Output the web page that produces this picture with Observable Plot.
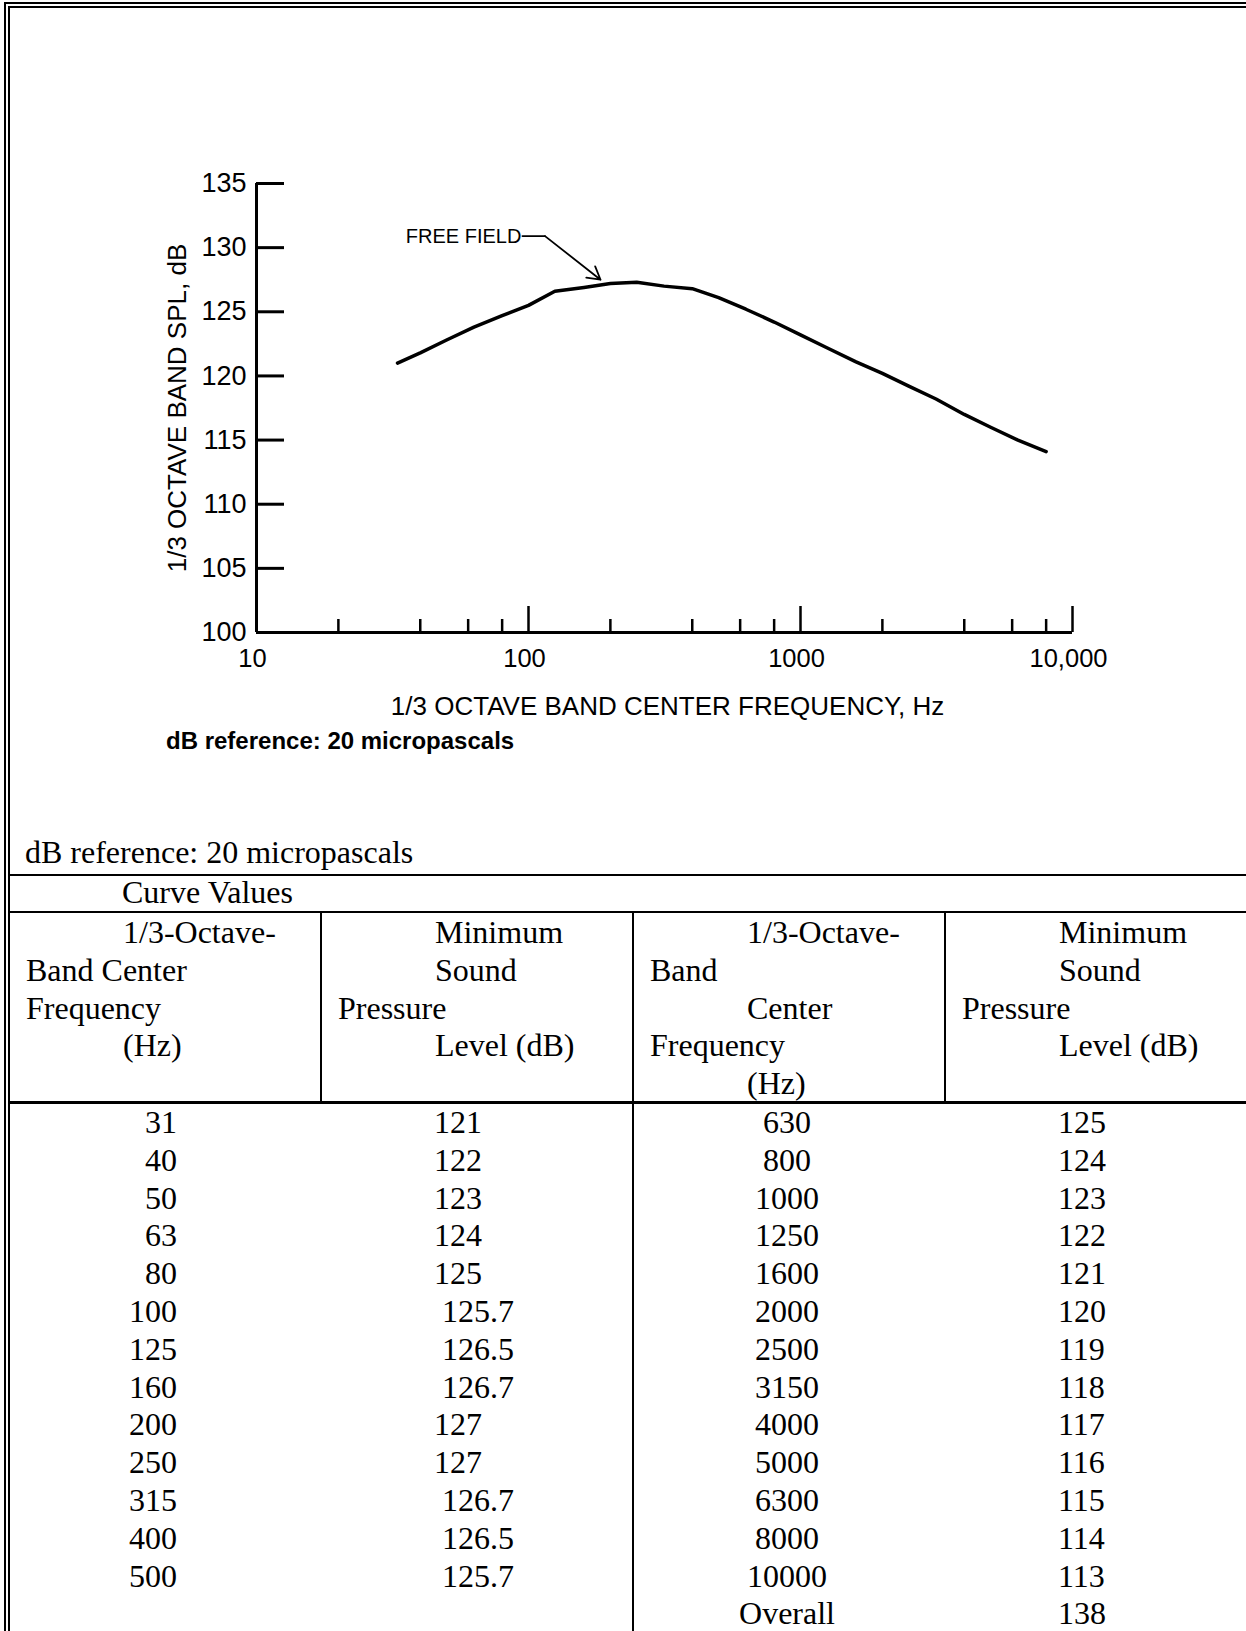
<!DOCTYPE html>
<html><head><meta charset="utf-8">
<script src="https://cdn.jsdelivr.net/npm/d3@7"></script>
<script src="https://cdn.jsdelivr.net/npm/@observablehq/plot@0.6"></script>
<style>
html,body{margin:0;padding:0;background:#fff;}
#page{position:relative;width:1246px;height:1631px;overflow:hidden;background:#fff;}
#frame{position:absolute;left:4px;top:2px;width:1260px;height:1650px;border-top:6px double #000;border-left:6px double #000;}
#chart{position:absolute;left:0;top:0;}
.caption{position:absolute;left:166px;top:729px;font:bold 24px/24px "Liberation Sans",Arial,sans-serif;white-space:nowrap;color:#000;}
.t{position:absolute;font:32px/37.8px "Liberation Serif","Times New Roman",serif;white-space:pre;color:#000;}
.ln{position:absolute;background:#000;}
</style></head>
<body><div id="page"><div id="frame"></div><div id="chart"></div>
<div class="caption">dB reference: 20 micropascals</div><div id="table"></div></div>
<script>
// ---- chart data ----
const yTicks = [100, 105, 110, 115, 120, 125, 130, 135];
const xLabelTicks = [10, 100, 1000, 10000];
const xTickLabels = ["10", "100", "1000", "10,000"];
const xMajorTicks = [100, 1000, 10000];
const xMinorTicks = [20, 40, 60, 80, 200, 400, 600, 800, 2000, 4000, 6000, 8000];
const curveFreq = [33, 40, 50, 63, 80, 100, 125, 160, 200, 250, 315, 400, 500, 630, 800, 1000, 1250, 1600, 2000, 2500, 3150, 4000, 5000, 6300, 8000];
const curveLevel = [121.0, 121.8, 122.8, 123.8, 124.7, 125.5, 126.6, 126.9, 127.2, 127.3, 127.0, 126.8, 126.1, 125.2, 124.2, 123.2, 122.2, 121.1, 120.2, 119.2, 118.2, 117.0, 116.0, 115.0, 114.1];
const annotationText = ["FREE FIELD"];
const leaderFreq = [95, 115, 184];
const leaderLevel = [130.9, 130.9, 127.5];
const yTitle = "1/3 OCTAVE BAND SPL, dB";
const xTitle = "1/3 OCTAVE BAND CENTER FREQUENCY, Hz";

// ---- table data ----
const tableTitle = "dB reference: 20 micropascals";
const tableSubtitle = "Curve Values";
const headerCols = [
  ["1/3-Octave-", "Band Center", "Frequency", "(Hz)"],
  ["Minimum", "Sound", "Pressure", "Level (dB)"],
  ["1/3-Octave-", "Band", "Center", "Frequency", "(Hz)"],
  ["Minimum", "Sound", "Pressure", "Level (dB)"]
];
const leftFreq = [31, 40, 50, 63, 80, 100, 125, 160, 200, 250, 315, 400, 500];
const leftLevel = [121, 122, 123, 124, 125, 125.7, 126.5, 126.7, 127, 127, 126.7, 126.5, 125.7];
const rightFreq = [630, 800, 1000, 1250, 1600, 2000, 2500, 3150, 4000, 5000, 6300, 8000, 10000, "Overall"];
const rightLevel = [125, 124, 123, 122, 121, 120, 119, 118, 117, 116, 115, 114, 113, 138];

// ---- chart ----
const curve = curveFreq.map((f, i) => ({freq: f, level: curveLevel[i]}));
const labelMap = new Map(xLabelTicks.map((t, i) => [t, xTickLabels[i]]));
const annotation = [{text: annotationText[0], freq: leaderFreq[0], level: leaderLevel[0]}];
const leader = leaderFreq.map((f, i) => ({freq: f, level: leaderLevel[i]}));
const pointer = [{x1: leaderFreq[1], y1: leaderLevel[1], x2: leaderFreq[2], y2: leaderLevel[2]}];
const font = '"Liberation Sans", Arial, Helvetica, sans-serif';

const chart = Plot.plot({
  width: 1246, height: 790,
  marginLeft: 256, marginRight: 174, marginTop: 183, marginBottom: 158,
  x: {type: "log", domain: [10, 10000]},
  y: {domain: [100, 135]},
  style: {background: "transparent", color: "#000", fontFamily: font, overflow: "visible"},
  marks: [
    Plot.axisY({ticks: yTicks, tickSize: -28, strokeWidth: 3, tickFormat: () => "", label: null}),
    Plot.axisY({ticks: yTicks, tickSize: 0, tickPadding: 10, fontSize: 27, label: null}),
    Plot.axisX({ticks: xMajorTicks, tickSize: -26, strokeWidth: 2.5, tickFormat: () => "", label: null}),
    Plot.axisX({ticks: xMinorTicks, tickSize: -13, strokeWidth: 2.5, tickFormat: () => "", label: null}),
    Plot.axisX({ticks: xLabelTicks, tickSize: 0, tickPadding: 16, dx: -4, fontSize: 25.5, tickFormat: d => labelMap.get(d), label: null}),
    Plot.ruleX([10], {strokeWidth: 3}),
    Plot.ruleY([100], {strokeWidth: 3}),
    Plot.text([yTitle], {text: d => d, frameAnchor: "left", textAnchor: "middle", rotate: -90, dx: -79, fontSize: 26, lineAnchor: "middle"}),
    Plot.text([xTitle], {text: d => d, frameAnchor: "bottom", textAnchor: "middle", dx: 3, dy: 74, fontSize: 26, lineAnchor: "middle"}),
    Plot.line(curve, {x: "freq", y: "level", stroke: "#000", strokeWidth: 3.5, strokeLinejoin: "round"}),
    Plot.text(annotation, {x: "freq", y: "level", text: "text", textAnchor: "end", dx: -1, fontSize: 20, lineAnchor: "middle"}),
    Plot.line(leader.slice(0, 2), {x: "freq", y: "level", stroke: "#000", strokeWidth: 1.8}),
    Plot.arrow(pointer, {x1: "x1", y1: "y1", x2: "x2", y2: "y2", stroke: "#000", strokeWidth: 1.8, headLength: 12})
  ]
});
document.getElementById("chart").appendChild(chart);

// ---- table ----
const tbl = document.getElementById("table");
function addText(str, left, top, width, align) {
  const d = document.createElement("div");
  d.className = "t";
  d.textContent = str;
  d.style.left = left + "px";
  d.style.top = top + "px";
  if (width) { d.style.width = width + "px"; d.style.textAlign = align; }
  tbl.appendChild(d);
}
function addLine(x, y, w, h) {
  const d = document.createElement("div");
  d.className = "ln";
  Object.assign(d.style, {left: x + "px", top: y + "px", width: w + "px", height: h + "px"});
  tbl.appendChild(d);
}
const lineH = 37.8;
addText(tableTitle, 25, 834);
addText(tableSubtitle, 122, 874);
const colLeft = [9, 321, 633, 945];
const indents = [[1, 0, 0, 1], [1, 1, 0, 1], [1, 0, 1, 0, 1], [1, 1, 0, 1]];
headerCols.forEach((lines, c) => {
  lines.forEach((s, k) => addText(s, colLeft[c] + 17 + indents[c][k] * 97, 914 + k * lineH));
});
const rowTop = 1104;
const fmtLevel = v => (Number.isInteger(v) ? "" : " ") + v;
leftFreq.forEach((f, i) => {
  addText(String(f), 9, rowTop + i * lineH, 168, "right");
  addText(fmtLevel(leftLevel[i]), 434, rowTop + i * lineH);
});
rightFreq.forEach((f, i) => {
  addText(String(f), 633, rowTop + i * lineH, 308, "center");
  addText(fmtLevel(rightLevel[i]), 1058, rowTop + i * lineH);
});
addLine(10, 874, 1240, 2);
addLine(10, 911, 1240, 2);
addLine(320, 913, 2, 189);
addLine(632, 913, 2, 730);
addLine(944, 913, 2, 189);
addLine(10, 1101, 1240, 3);
</script>
</body></html>
